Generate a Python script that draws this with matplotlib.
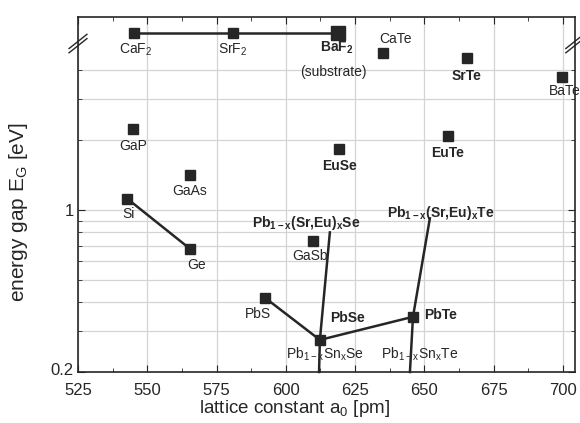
#!/usr/bin/env python3
"""Energy gap vs lattice constant for IV-VI and related semiconductors."""

import matplotlib
matplotlib.use("Agg")
import matplotlib.pyplot as plt
import matplotlib.transforms as mtransforms
from matplotlib.ticker import FixedLocator, NullFormatter

plt.rcParams["font.family"] = ["Liberation Sans", "DejaVu Sans"]
plt.rcParams["mathtext.default"] = "regular"

INK = "#262626"
GRID = "#d4d4d4"
FS = 10

# fluorides sit above the axis break; drawn at a nominal off-scale level
OFFSCALE_GAP = 5.8

# compound, lattice constant a0 [pm], gap [eV]
names = ["CaF2", "SrF2", "BaF2", "CaTe", "SrTe", "BaTe", "GaP", "GaAs",
         "Si", "Ge", "GaSb", "EuSe", "EuTe", "PbS", "PbSe", "PbTe"]
a0 = [545.2, 580.9, 618.8, 635.0, 665.3, 699.6, 544.8, 565.4,
      542.7, 565.4, 609.8, 619.2, 658.5, 592.5, 612.3, 645.9]
gap = [OFFSCALE_GAP, OFFSCALE_GAP, OFFSCALE_GAP, 4.75, 4.52, 3.74, 2.23, 1.41,
       1.12, 0.68, 0.735, 1.83, 2.08, 0.418, 0.275, 0.346]

# alloy lines (end points)
sreu_se_a = [612.3, 615.9]
sreu_se_g = [0.275, 0.80]
sreu_te_a = [645.9, 652.0]
sreu_te_g = [0.346, 0.92]
snse_a = [612.3, 612.0]
snse_g = [0.275, 0.2]
snte_a = [645.9, 644.8]
snte_g = [0.346, 0.2]

# binary tie lines
tie_lines = [("CaF2", "SrF2", "BaF2"), ("Si", "Ge"), ("PbS", "PbSe", "PbTe")]

# label text, offset (points), weight
labels = {
    "CaF2": ("CaF$_2$", (1, -12), "normal"),
    "SrF2": ("SrF$_2$", (0, -12), "normal"),
    "BaF2": ("BaF$_2$", (-1, -11), "bold"),
    "CaTe": ("CaTe", (9, 10), "normal"),
    "SrTe": ("SrTe", (0, -13), "bold"),
    "BaTe": ("BaTe", (2, -10), "normal"),
    "GaP": ("GaP", (0, -12), "normal"),
    "GaAs": ("GaAs", (0, -11), "normal"),
    "Si": ("Si", (1, -11), "normal"),
    "Ge": ("Ge", (5, -12), "normal"),
    "GaSb": ("GaSb", (-2, -11), "normal"),
    "EuSe": ("EuSe", (0, -12), "bold"),
    "EuTe": ("EuTe", (0, -12), "bold"),
    "PbS": ("PbS", (-5, -12), "normal"),
    "PbSe": ("PbSe", (20, 16), "bold"),
    "PbTe": ("PbTe", (20, 1), "bold"),
}


def main():
    fig = plt.figure(figsize=(5.8, 4.23), dpi=100)
    ax = fig.add_axes([0.1345, 0.1206, 0.8565, 0.8394])
    ax.set_yscale("log")
    ax.set_xlim(525, 704.3)
    ax.set_ylim(0.2, 6.8)

    idx = {n: i for i, n in enumerate(names)}

    # grid
    ax.set_xticks([525, 550, 575, 600, 625, 650, 675, 700])
    ax.xaxis.set_minor_locator(FixedLocator([537.5 + 25 * k for k in range(7)]))
    ax.yaxis.set_major_locator(FixedLocator([0.2, 1]))
    ax.yaxis.set_minor_locator(FixedLocator([0.3, 0.4, 0.5, 0.6, 0.7, 0.8, 0.9, 2, 3, 4]))
    ax.yaxis.set_minor_formatter(NullFormatter())
    ax.set_yticklabels(["0.2", "1"])
    ax.grid(True, which="major", axis="x", color=GRID, linewidth=0.9)
    ax.grid(True, which="both", axis="y", color=GRID, linewidth=0.9)
    ax.set_axisbelow(True)

    # lines
    for chain in tie_lines:
        xs = [a0[idx[n]] for n in chain]
        ys = [gap[idx[n]] for n in chain]
        ax.plot(xs, ys, color=INK, linewidth=1.8, zorder=3)
    for xs, ys in [(sreu_se_a, sreu_se_g), (sreu_te_a, sreu_te_g),
                   (snse_a, snse_g), (snte_a, snte_g)]:
        ax.plot(xs, ys, color=INK, linewidth=1.8, zorder=3, clip_on=False)

    # markers
    for n in names:
        i = idx[n]
        ms = 10 if n == "BaF2" else 7
        ax.plot(a0[i], gap[i], marker="s", markersize=ms, color=INK,
                linestyle="none", zorder=4)

    # labels
    for n, (txt, off, w) in labels.items():
        i = idx[n]
        ax.annotate(txt, (a0[i], gap[i]), xytext=off, textcoords="offset points",
                    ha="center", va="center", fontsize=FS, fontweight=w,
                    color=INK, zorder=5, annotation_clip=False)
    i = idx["BaF2"]
    ax.annotate("(substrate)", (a0[i], gap[i]), xytext=(-3, -28),
                textcoords="offset points", ha="center", va="center",
                fontsize=FS, color=INK)
    ax.annotate("Pb$_{1-x}$(Sr,Eu)$_x$Se", (sreu_se_a[1], sreu_se_g[1]),
                xytext=(-17, 7), textcoords="offset points", ha="center",
                va="center", fontsize=FS, fontweight="bold", color=INK)
    ax.annotate("Pb$_{1-x}$(Sr,Eu)$_x$Te", (sreu_te_a[1], sreu_te_g[1]),
                xytext=(8, 4), textcoords="offset points", ha="center",
                va="center", fontsize=FS, fontweight="bold", color=INK)
    ax.annotate("Pb$_{1-x}$Sn$_x$Se", (snse_a[1], snse_g[1]),
                xytext=(4, 13), textcoords="offset points", ha="center",
                va="center", fontsize=FS, color=INK)
    ax.annotate("Pb$_{1-x}$Sn$_x$Te", (snte_a[1], snte_g[1]),
                xytext=(7, 13), textcoords="offset points", ha="center",
                va="center", fontsize=FS, color=INK)

    # axis break marks
    for xa in (0.0, 1.0):
        for dy in (-0.006, 0.006):
            ax.plot([xa - 0.018, xa + 0.018], [0.925 + dy - 0.02, 0.925 + dy + 0.02],
                    transform=ax.transAxes, color=INK, linewidth=1.0, clip_on=False)

    ax.tick_params(which="both", direction="in", top=True, right=True, color=INK,
                   labelsize=12, labelcolor=INK)
    ax.tick_params(which="major", length=5)
    ax.tick_params(axis="x", which="major", pad=8)
    ax.tick_params(axis="y", which="major", pad=3)
    ax.tick_params(which="minor", length=3)
    for s in ax.spines.values():
        s.set_color(INK)
        s.set_linewidth(1.2)

    # nudge the lowest y label up a little, as in the original
    lift = mtransforms.ScaledTranslation(0, 2 / 72, fig.dpi_scale_trans)
    lab = ax.get_yticklabels()[0]
    lab.set_transform(lab.get_transform() + lift)

    ax.set_xlabel("lattice constant a$_0$ [pm]", fontsize=13.5, color=INK)
    ax.xaxis.set_label_coords(0.435, -0.072)
    ax.set_ylabel("energy gap E$_G$ [eV]", fontsize=15, color=INK)
    ax.yaxis.set_label_coords(-0.096, 0.45)

    fig.savefig("out.png", dpi=100)
    plt.close(fig)


if __name__ == "__main__":
    main()
